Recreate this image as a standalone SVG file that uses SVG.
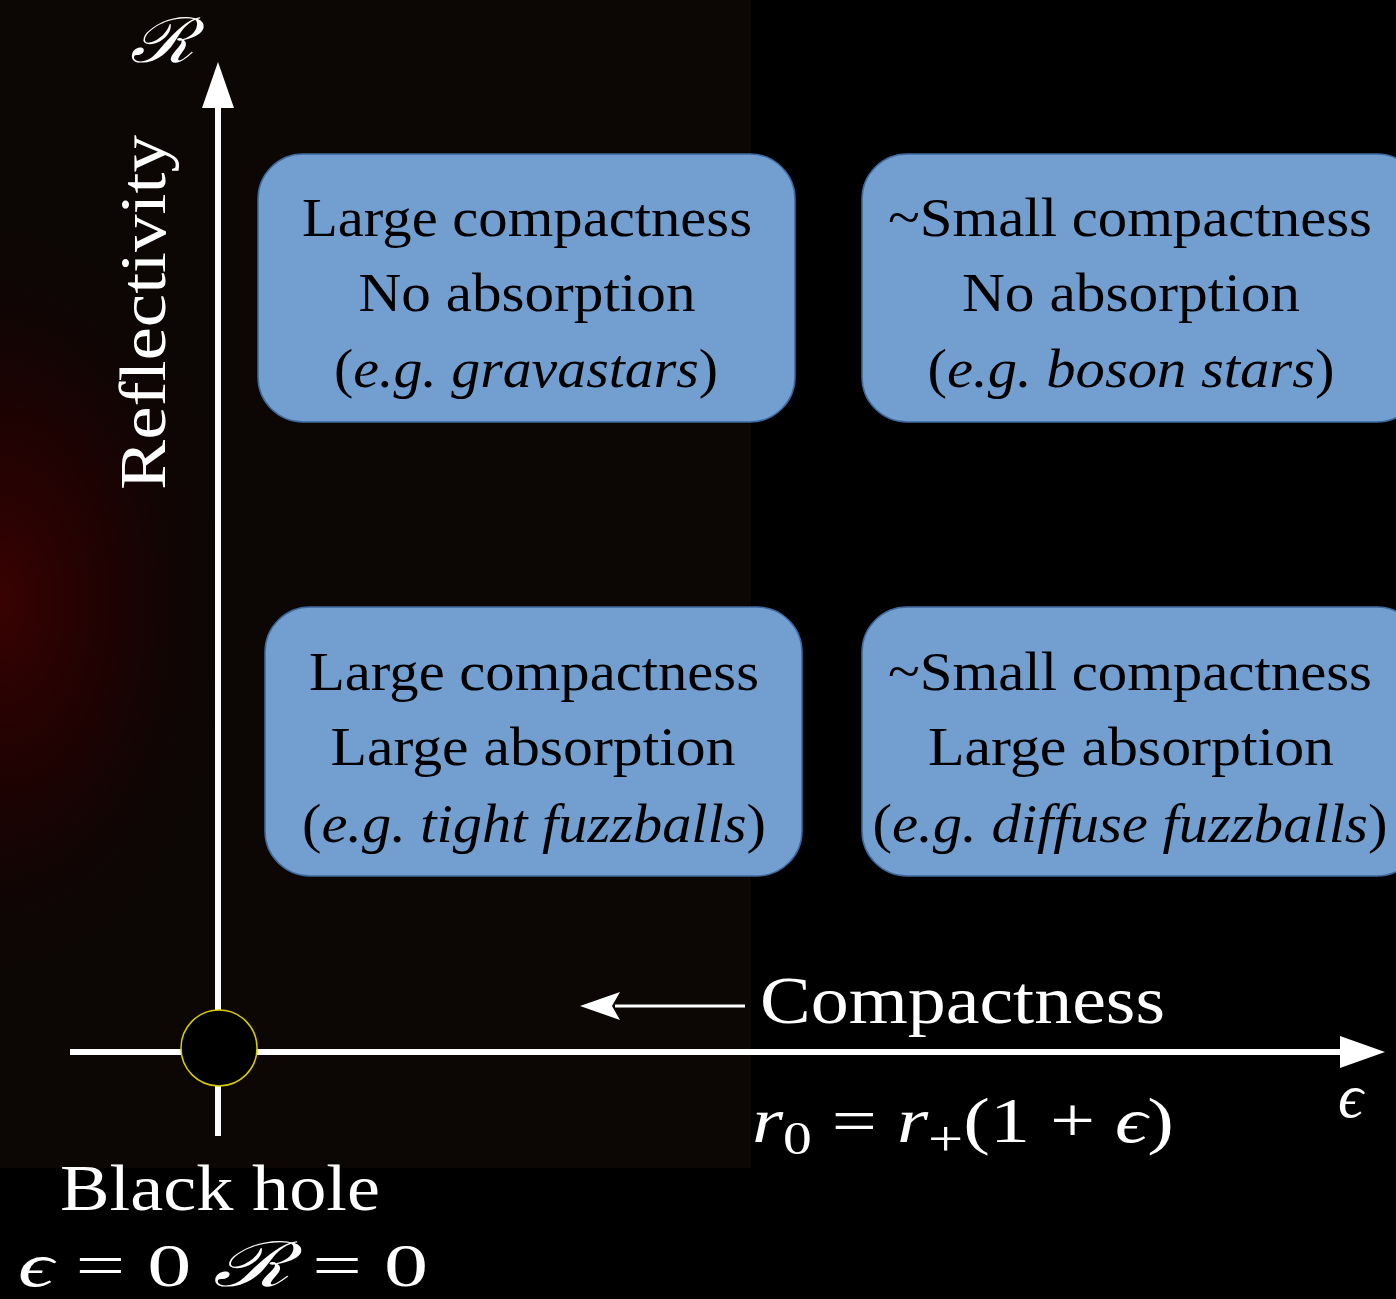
<svg xmlns="http://www.w3.org/2000/svg" width="1396" height="1299" viewBox="0 0 1396 1299">
<defs>
<radialGradient id="glow" cx="0" cy="600" r="300" gradientUnits="userSpaceOnUse" gradientTransform="translate(0,600) scale(0.8,1.3) translate(0,-600)">
<stop offset="0" stop-color="#3a0202" stop-opacity="1"/>
<stop offset="0.5" stop-color="#240101" stop-opacity="0.7"/>
<stop offset="1" stop-color="#0c0605" stop-opacity="0"/>
</radialGradient>
</defs>
<style>
.box{fill:#729fcf;stroke:#3d6aa0;stroke-width:1.5}
.bt{font-family:"Liberation Serif","DejaVu Serif",serif;font-size:54px;fill:#000;text-anchor:middle}
.it{font-style:italic}
.wt{font-family:"Liberation Serif","DejaVu Serif",serif;fill:#fff}
.axis{stroke:#fff;stroke-width:6;fill:none}
</style>
<rect x="0" y="0" width="1396" height="1299" fill="#000"/>
<rect x="0" y="0" width="751" height="1168" fill="#0c0605"/>
<rect x="0" y="0" width="751" height="1168" fill="url(#glow)"/>

<g id="connectors">
<line class="axis" x1="218" y1="1136" x2="218" y2="104"/>
<path d="M218,62 L234,108 L202,108 Z" fill="#fff"/>
<line class="axis" x1="70" y1="1052" x2="1344" y2="1052"/>
<path d="M1385,1052 L1340,1036 L1340,1068 Z" fill="#fff"/>
<line x1="745" y1="1006" x2="615" y2="1006" stroke="#fff" stroke-width="3"/>
<path d="M580,1006 L620,992 L612,1006 L620,1020 Z" fill="#fff"/>
</g>

<g id="blackhole">
<circle cx="219" cy="1048" r="38" fill="#000" stroke="#d8cc00" stroke-width="1.5"/>
</g>

<g id="box-gravastars">
<rect class="box" x="258" y="154" width="537" height="268" rx="45"/>
<text class="bt" x="527" y="236" textLength="450" lengthAdjust="spacingAndGlyphs">Large compactness</text>
<text class="bt" x="527" y="311" textLength="337" lengthAdjust="spacingAndGlyphs">No absorption</text>
<text class="bt" x="526" y="387" textLength="384" lengthAdjust="spacingAndGlyphs">(<tspan class="it">e.g.  gravastars</tspan>)</text>
</g>

<g id="box-boson">
<rect class="box" x="862" y="154" width="560" height="268" rx="45"/>
<text class="bt" x="1130" y="236" textLength="484" lengthAdjust="spacingAndGlyphs">~Small compactness</text>
<text class="bt" x="1131" y="311" textLength="338" lengthAdjust="spacingAndGlyphs">No absorption</text>
<text class="bt" x="1131" y="387" textLength="407" lengthAdjust="spacingAndGlyphs">(<tspan class="it">e.g.  boson stars</tspan>)</text>
</g>

<g id="box-tight">
<rect class="box" x="265" y="607" width="537" height="269" rx="45"/>
<text class="bt" x="534" y="690" textLength="450" lengthAdjust="spacingAndGlyphs">Large compactness</text>
<text class="bt" x="533" y="765" textLength="405" lengthAdjust="spacingAndGlyphs">Large absorption</text>
<text class="bt" x="534" y="842" textLength="464" lengthAdjust="spacingAndGlyphs">(<tspan class="it">e.g.  tight fuzzballs</tspan>)</text>
</g>

<g id="box-diffuse">
<rect class="box" x="862" y="607" width="560" height="269" rx="45"/>
<text class="bt" x="1130" y="690" textLength="484" lengthAdjust="spacingAndGlyphs">~Small compactness</text>
<text class="bt" x="1131" y="765" textLength="406" lengthAdjust="spacingAndGlyphs">Large absorption</text>
<text class="bt" x="1130" y="842" textLength="515" lengthAdjust="spacingAndGlyphs">(<tspan class="it">e.g.  diffuse fuzzballs</tspan>)</text>
</g>

<g id="labels">
<text class="wt it" x="130" y="62" font-size="62" textLength="64" lengthAdjust="spacingAndGlyphs">ℛ</text>
<text class="wt" x="0" y="0" font-size="66" transform="translate(165,490) rotate(-90)" textLength="355" lengthAdjust="spacingAndGlyphs">Reflectivity</text>
<text class="wt" x="760" y="1023" font-size="68" textLength="405" lengthAdjust="spacingAndGlyphs">Compactness</text>
<text class="wt it" x="1338" y="1117" font-size="62">ϵ</text>
<text class="wt" x="752" y="1142" font-size="64" textLength="422" lengthAdjust="spacingAndGlyphs"><tspan class="it">r</tspan><tspan font-size="46" dy="12">0</tspan><tspan dy="-12"> = </tspan><tspan class="it">r</tspan><tspan font-size="50" dy="14">+</tspan><tspan dy="-14">(1 + </tspan><tspan class="it">ϵ</tspan>)</text>
<text class="wt" x="60" y="1210" font-size="66" textLength="320" lengthAdjust="spacingAndGlyphs">Black hole</text>
<text class="wt" x="18" y="1286" font-size="62" textLength="410" lengthAdjust="spacingAndGlyphs"><tspan class="it">ϵ</tspan> = 0   <tspan class="it">ℛ</tspan> = 0</text>
</g>
</svg>
